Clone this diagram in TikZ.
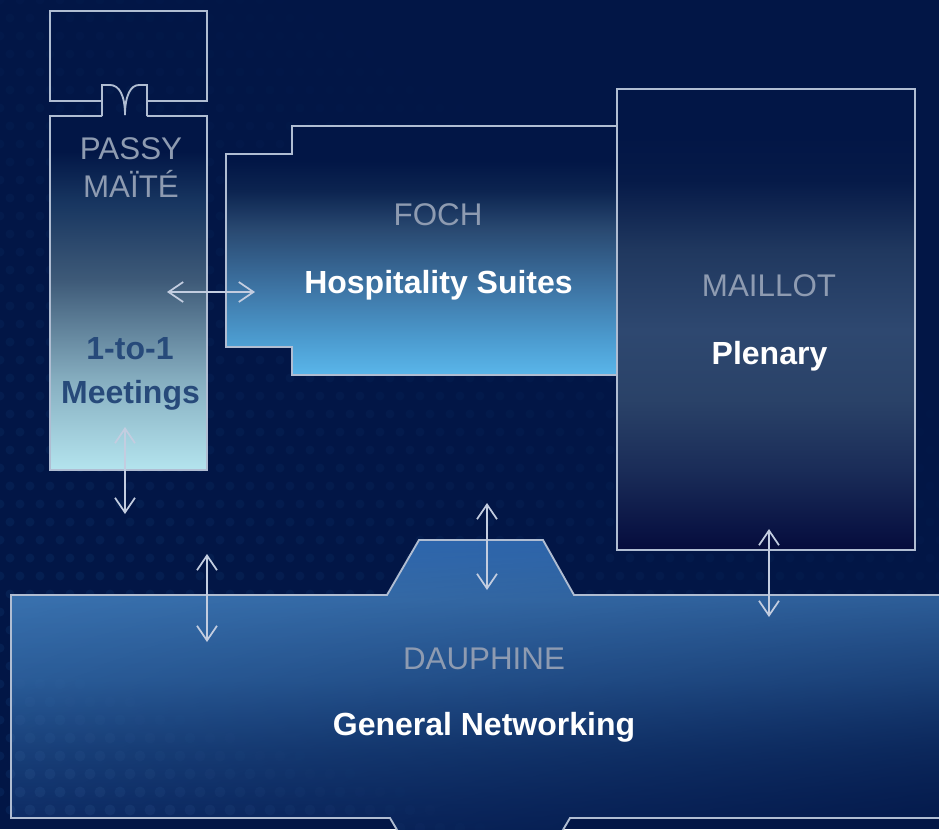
\documentclass[tikz,border=0pt]{standalone}
\usepackage{fontspec}
\setmainfont{Liberation Sans}
\usetikzlibrary{arrows.meta,fadings,shadings}

\definecolor{bgc}{HTML}{021646}
\definecolor{dotc}{HTML}{0A2A5E}
\definecolor{ddotc}{HTML}{5A8CC8}
\definecolor{linec}{HTML}{B0BDD2}
\definecolor{labc}{HTML}{8E9BB1}
\definecolor{arrc}{HTML}{C3CDE0}
\definecolor{meetc}{HTML}{274A7A}

% Passy
\definecolor{pA}{HTML}{B4E4EE}
\definecolor{pB}{HTML}{86AEC0}
\definecolor{pC}{HTML}{3E5A78}
\definecolor{pD}{HTML}{173560}
\pgfdeclareverticalshading{passysh}{100bp}{color(0bp)=(pA); color(25bp)=(pA); color(37.7bp)=(pB); color(51.8bp)=(pC); color(63bp)=(pD); color(70bp)=(bgc); color(100bp)=(bgc)}
% Foch
\definecolor{fA}{HTML}{5AB6EA}
\definecolor{fB}{HTML}{4C9CD0}
\definecolor{fC}{HTML}{3E76A6}
\definecolor{fD}{HTML}{2A4A72}
\definecolor{fE}{HTML}{0C2450}
\pgfdeclareverticalshading{fochsh}{100bp}{color(0bp)=(fA); color(25bp)=(fA); color(32bp)=(fB); color(42bp)=(fC); color(54bp)=(fD); color(62bp)=(fE); color(68bp)=(bgc); color(100bp)=(bgc)}
% Maillot
\definecolor{mA}{HTML}{060C3C}
\definecolor{mB}{HTML}{0A1444}
\definecolor{mC}{HTML}{1A2C58}
\definecolor{mD}{HTML}{2A4268}
\definecolor{mE}{HTML}{2E4870}
\definecolor{mF}{HTML}{20385F}
\definecolor{mG}{HTML}{061A48}
\pgfdeclareverticalshading{maillotsh}{100bp}{color(0bp)=(mA); color(25bp)=(mA); color(27.2bp)=(mB); color(33.7bp)=(mC); color(41.3bp)=(mD); color(48.9bp)=(mE); color(57.5bp)=(mF); color(65.1bp)=(mG); color(70bp)=(bgc); color(100bp)=(bgc)}
% Dauphine
\definecolor{dA}{HTML}{0E2E68}
\definecolor{dB}{HTML}{123470}
\definecolor{dC}{HTML}{1E4A86}
\definecolor{dD}{HTML}{3066A4}
\definecolor{dE}{HTML}{3C76B4}
\definecolor{dF}{HTML}{306AB2}
\pgfdeclareverticalshading{dauphsh}{100bp}{color(0bp)=(dA); color(25bp)=(dA); color(28.7bp)=(dB); color(40bp)=(dC); color(51.7bp)=(dD); color(65bp)=(dE); color(75bp)=(dF); color(100bp)=(dF)}

\begin{tikzfadingfrompicture}[name=brfade]
  \shade[upper left=black, upper right=black!88!white, lower left=black!70!white, lower right=white]
    (-25bp,-25bp) rectangle (25bp,25bp);
\end{tikzfadingfrompicture}

\tikzset{
  wall/.style={draw=linec, line width=1.4pt, line join=miter},
  roomlabel/.style={text=labc, font=\fontsize{23.5}{27}\selectfont, anchor=base, inner sep=0pt},
  usage/.style={text=white, font=\fontsize{24}{28}\selectfont\bfseries, anchor=base, inner sep=0pt},
  link/.style={draw=arrc, line width=1.3pt,
    {Straight Barb[length=11pt,width=15pt]}-{Straight Barb[length=11pt,width=15pt]}},
}

\begin{document}
\begin{tikzpicture}[x=0.75pt,y=-0.75pt]
\useasboundingbox (0,0) rectangle (939,829);
\fill[bgc] (0,0) rectangle (939,829);

\def\dauphpath{(11,595) -- (387,595) -- (419,540) -- (543,540) -- (574,595) -- (950,595)
  -- (950,818) -- (570,818) -- (557,840) -- (403,840) -- (390,818) -- (11,818) -- cycle}

\begin{scope}
\clip (0,0) rectangle (939,829);

% dot texture on the background
\foreach \r in {0,...,45}{
  \foreach \c in {0,...,47}{
    \pgfmathsetmacro\xx{\c*20+mod(\r,2)*10}
    \pgfmathsetmacro\op{max(0,min(0.55,0.15+0.5*(\r*18)/829-0.35*\xx/939))}
    \fill[dotc, fill opacity=\op] (\xx,\r*18) circle (4.5);
  }
}

% DAUPHINE
\shade[shading=dauphsh] \dauphpath;
\fill[bgc, path fading=brfade, fill opacity=0.9] \dauphpath;
\begin{scope}
  \clip \dauphpath;
  \foreach \r in {36,...,46}{
    \foreach \c in {0,...,24}{
      \pgfmathsetmacro\xx{\c*20+mod(\r,2)*10}
      \pgfmathsetmacro\op{max(0,min(0.09,0.01+0.12*(\r*18-640)/190-0.12*\xx/500))}
      \fill[ddotc, fill opacity=\op] (\xx,\r*18) circle (5.5);
    }
  }
\end{scope}
\draw[wall] \dauphpath;

% FOCH
\shadedraw[shading=fochsh, wall]
  (292,126) -- (617,126) -- (617,375) -- (292,375) -- (292,347) -- (226,347)
  -- (226,154) -- (292,154) -- cycle;

% MAILLOT
\shadedraw[shading=maillotsh, wall] (617,89) rectangle (915,550);

% PASSY upper room
\draw[wall] (102,101) -- (50,101) -- (50,11) -- (207,11) -- (207,101) -- (147,101);
% PASSY lower room
\shade[shading=passysh] (50,116) rectangle (207,470);
\draw[wall] (102,116) -- (50,116) -- (50,470) -- (207,470) -- (207,116) -- (147,116);
% door
\draw[wall] (102,116) -- (102,85) -- (110,85) .. controls (119,85) and (125,95) .. (125,115);
\draw[wall] (147,116) -- (147,85) -- (139,85) .. controls (131,85) and (125,95) .. (125,115);
\end{scope}

% labels
\node[roomlabel] (passy) at (131,159) {PASSY};
\node[roomlabel] (maite) at (131,197) {MAÏTÉ};
\node[usage, text=meetc] (one) at (130,359) {1-to-1};
\node[usage, text=meetc] (meet) at (130.5,403) {Meetings};
\node[roomlabel] (foch) at (438,225) {FOCH};
\node[usage] (hosp) at (438.5,293) {Hospitality Suites};
\node[roomlabel] (maillot) at (769,296) {MAILLOT};
\node[usage] (plen) at (769.5,364) {Plenary};
\node[roomlabel] (dauph) at (484,669) {DAUPHINE};
\node[usage] (gen) at (484,735) {General Networking};

% connector end points
\coordinate (hA) at (167,292);
\coordinate (hB) at (255,292);
\coordinate (pT) at (125,427);
\coordinate (pB) at (125,514);
\coordinate (lT) at (207,554);
\coordinate (lB) at (207,642);
\coordinate (cT) at (487,503);
\coordinate (cB) at (487,590);
\coordinate (mT) at (769,529);
\coordinate (mB) at (769,617);

\draw[link] (hA) -- (hB);
\draw[link] (pT) -- (pB);
\draw[link] (lT) -- (lB);
\draw[link] (cT) -- (cB);
\draw[link] (mT) -- (mB);
\end{tikzpicture}
\end{document}
